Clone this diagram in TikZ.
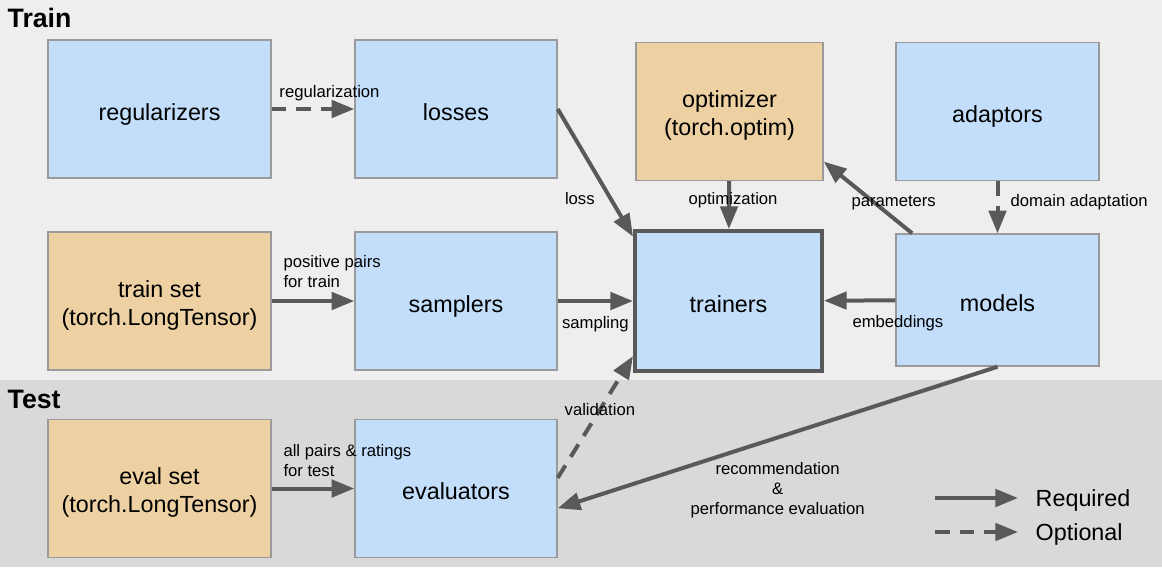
\documentclass[tikz,border=0pt]{standalone}
\usepackage{fontspec}
\setmainfont{Liberation Sans}
\usetikzlibrary{arrows.meta,positioning}
\definecolor{trainbg}{HTML}{EEEEEE}
\definecolor{testbg}{HTML}{D9D9D9}
\definecolor{modblue}{HTML}{C2DEFB}
\definecolor{datatan}{HTML}{EED1A2}
\definecolor{boxline}{HTML}{9A9A9A}
\definecolor{flow}{HTML}{595959}
\newcommand\firstline{\rule{0pt}{19pt}}
\begin{document}
\begin{tikzpicture}[x=0.75pt,y=-0.75pt,
    box/.style={draw=boxline,line width=1.1pt,minimum height=103.5pt,inner sep=0pt,
      font=\fontsize{17.5}{21}\selectfont,align=center,
      execute at begin node={\rule{0pt}{20.35pt}},
      execute at end node={\rule[-3.7pt]{0pt}{3.7pt}}},
    mod/.style={box,fill=modblue},
    data/.style={box,fill=datatan},
    req/.style={draw=flow,line width=3pt,-{Triangle[length=17pt,width=13pt]}},
    opt/.style={req,dash pattern=on 11pt off 7.5pt},
    lbl/.style={font=\fontsize{12.5}{15}\selectfont},
    legend/.style={font=\fontsize{17.5}{21}\selectfont,anchor=west},
    title/.style={font=\fontsize{20}{24}\selectfont\bfseries,anchor=west}]
  \fill[trainbg] (0,0) rectangle (1162,380);
  \fill[testbg] (0,380) rectangle (1162,567);
  \useasboundingbox (0,0) rectangle (1162,567);

  \node [title] (train) at (3,18) {Train};
  \node [title] (test) at (3,399) {Test};

  % train row
  \node [mod,minimum width=167.25pt] (reg) at (159.5,109) {regularizers};
  \node [mod,minimum width=151.5pt] (losses) at (456,109) {losses};
  \node [data,minimum width=140.25pt] (optim) at (729.5,111.5) {\firstline optimizer\\(torch.optim)};
  \node [mod,minimum width=152.25pt] (adapt) at (997.5,111.5) {adaptors};

  \node [data,minimum width=167.25pt] (trainset) at (159.5,301) {\firstline train set\\(torch.LongTensor)};
  \node [mod,minimum width=151.5pt] (samplers) at (456,301) {samplers};
  \node [mod,minimum width=140.25pt,minimum height=105pt,draw=flow,line width=3pt] (trainers) at (728.5,301) {trainers};
  \node [mod,minimum width=152.25pt,minimum height=99pt] (models) at (997.5,300) {models};

  % test row
  \node [data,minimum width=167.25pt] (evalset) at (159.5,488.5) {\firstline eval set\\(torch.LongTensor)};
  \node [mod,minimum width=151.5pt] (evaluators) at (456,488.5) {evaluators};

  \draw[opt] (reg) -- node[lbl,above,pos=0.7,yshift=1.5pt] {regularization} (losses);
  \draw[req] (losses.east) -- node[lbl,left,pos=0.7,xshift=-7pt] {loss} (trainers.146);
  \draw[req] (optim) -- node[lbl,pos=0.4,xshift=3pt] {optimization} (trainers);
  \draw[req] (models.142) -- node[lbl,pos=0.45,xshift=16pt,yshift=-1.5pt] {parameters} (optim.-28);
  \draw[opt] (adapt) -- node[lbl,right,pos=0.4,xshift=5pt] {domain adaptation} (models);
  \draw[req] (trainset) -- node[lbl,above right,pos=0,align=left,xshift=4pt,yshift=5pt] {positive pairs\\for train} (samplers);
  \draw[req] (samplers) -- node[lbl,below,midway,yshift=-6.5pt] {sampling} (trainers);
  \draw[req] (models) -- node[lbl,below,pos=0,xshift=2pt,yshift=-6.5pt] {embeddings} (trainers);
  \draw[opt] (evaluators.6) -- node[lbl,pos=0.56] {validation} (trainers.210);
  \draw[req] (models.south) -- node[lbl,midway,yshift=-39.5pt,align=center]
    {recommendation\\\&\\performance evaluation} (evaluators.-11);
  \draw[req] (evalset) -- node[lbl,above right,pos=0,align=left,xshift=4pt,yshift=4pt] {all pairs \& ratings\\for test} (evaluators);

  % legend
  \coordinate (reqa) at (935,498);
  \coordinate (reqb) at (1018,498);
  \coordinate (opta) at (935,532);
  \coordinate (optb) at (1018,532);
  \node [legend] (reqtxt) at (1031,500.5) {Required};
  \node [legend] (opttxt) at (1031,534.5) {Optional};
  \draw[req] (reqa) -- (reqb);
  \draw[opt] (opta) -- (optb);
\end{tikzpicture}
\end{document}
